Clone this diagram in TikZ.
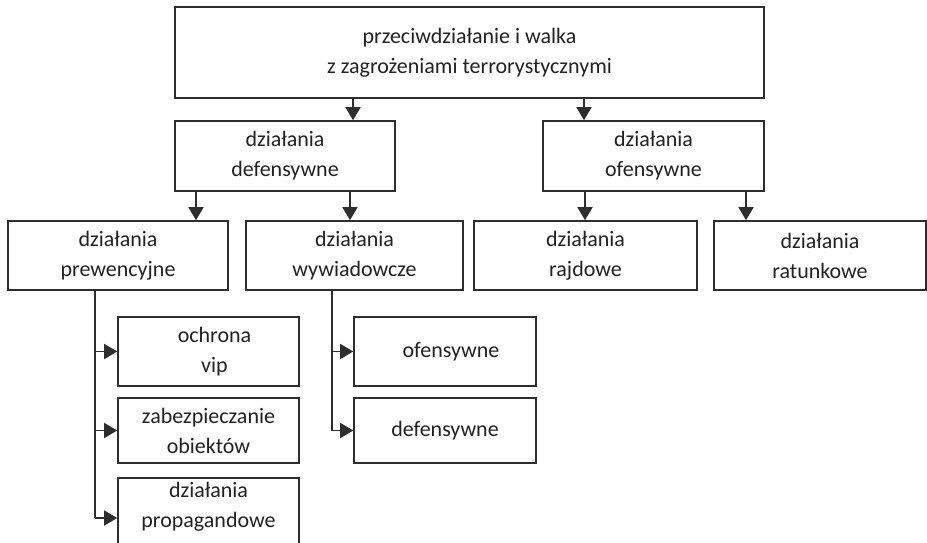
\documentclass[tikz,border=0pt]{standalone}
\usepackage{fontspec}
\setmainfont{Carlito}
\usetikzlibrary{arrows.meta}
\definecolor{ln}{HTML}{2E2E2E}
\definecolor{tx}{HTML}{222222}
\begin{document}
\begin{tikzpicture}[x=1pt,y=-1pt,
  box/.style={draw=ln, line width=1.6pt, rectangle, inner sep=0pt, align=center,
    text=tx, font=\fontsize{22}{30}\selectfont},
  lbl/.style={inner sep=0pt, align=center, text=tx, font=\fontsize{22}{30}\selectfont},
  conn/.style={draw=ln, line width=1.6pt},
  arr/.style={conn, -{Triangle[width=15pt,length=13pt]}}]
\useasboundingbox (0,0) rectangle (927,542);
% boxes
\node[box, minimum width=589pt, minimum height=91pt] (top) at (469.5,52.5) {przeciwdziałanie i walka\\z zagrożeniami terrorystycznymi};
\node[box, minimum width=220pt, minimum height=70pt] (def) at (285,156) {działania\\defensywne};
\node[box, minimum width=221pt, minimum height=70pt] (ofe) at (653.5,156) {działania\\ofensywne};
\node[box, minimum width=220pt, minimum height=69pt] (prew) at (118,255.5) {działania\\prewencyjne};
\node[box, minimum width=217pt, minimum height=69pt] (wyw) at (354.5,255.5) {działania\\wywiadowcze};
\node[box, minimum width=223pt, minimum height=69pt] (rajd) at (585.5,255.5) {działania\\rajdowe};
\node[box, minimum width=212pt, minimum height=69pt] (ratu) at (820,255.5) {działania\\ratunkowe};
\node[box, minimum width=181pt, minimum height=69pt] (ochr) at (208.5,351.5) {\hspace*{12pt}ochrona\\\hspace*{12pt}vip};
\node[box, minimum width=181pt, minimum height=65pt] (zabe) at (208.5,430.5) {zabezpieczanie\\obiektów};
\node[box, minimum width=181pt, minimum height=80pt] (prop) at (208.5,518) {};
\node[lbl] (propt) at (208.5,506.5) {działania\\propagandowe};
\node[box, minimum width=182pt, minimum height=69pt] (wofe) at (445,351.5) {\hspace*{12pt}ofensywne};
\node[box, minimum width=182pt, minimum height=65pt] (wdef) at (445,430.5) {defensywne};
% connectors
\draw[arr] (353,0 |- top.south) -- (353,0 |- def.north);
\draw[arr] (584,0 |- top.south) -- (584,0 |- ofe.north);
\draw[arr] (196,0 |- def.south) -- (196,0 |- prew.north);
\draw[arr] (350,0 |- def.south) -- (350,0 |- wyw.north);
\draw[arr] (585,0 |- ofe.south) -- (585,0 |- rajd.north);
\draw[arr] (746,0 |- ofe.south) -- (746,0 |- ratu.north);
\coordinate (pend) at (95,518);
\draw[conn] (95,0 |- prew.south) -- (pend);
\draw[arr] (ochr.west -| pend) -- (ochr.west);
\draw[arr] (zabe.west -| pend) -- (zabe.west);
\draw[arr] (pend) -- (prop.west);
\coordinate (wend) at (332,430.5);
\draw[conn] (332,0 |- wyw.south) -- (wend);
\draw[arr] (wofe.west -| wend) -- (wofe.west);
\draw[arr] (wend) -- (wdef.west);
\end{tikzpicture}
\end{document}
